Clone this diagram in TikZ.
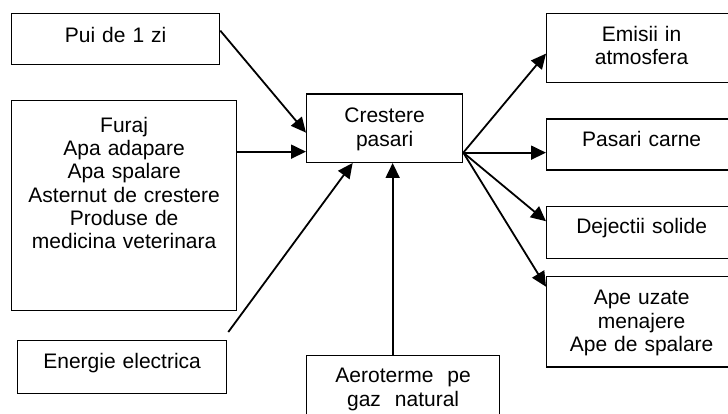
\documentclass[tikz,border=0pt]{standalone}
\usepackage{fontspec}
\setmainfont{Liberation Sans}
\usetikzlibrary{arrows.meta,positioning}
\tikzset{box/.style={draw, line width=1.3pt, inner sep=0pt, align=center,
                     font=\fontsize{21}{23.3}\selectfont},
         flow/.style={-{Triangle[length=15pt,width=14pt]}, line width=1.8pt}}

\begin{document}
\begin{tikzpicture}[x=1pt,y=-1pt]
                   \useasboundingbox (0,0) rectangle (728,414);
                   \clip (0,0) rectangle (728,414);
                   % inputs
                   \node[box,anchor=north west,text width=208pt,text height=28.7pt,text depth=22.3pt] (pui) at (11,13) {Pui de 1 zi};
                   \node[box,anchor=north west,text width=225pt,text height=31.7pt,text depth=178.3pt] (furaj) at (11,100) {Furaj\\Apa adapare\\Apa spalare\\Asternut de crestere\\Produse de\\medicina veterinara};
                   \node[box,anchor=north west,text width=209pt,text height=28.3pt,text depth=24.7pt] (energie) at (17,340) {Energie electrica};
                   \node[box,anchor=north west,text width=193pt,text height=27.3pt,text depth=37.7pt] (aeroterme) at (306,355) {Aeroterme\ \ pe\\gaz\ \ natural};
                   % process
                   \node[box,anchor=north west,text width=156pt,text height=29pt,text depth=39.4pt] (crestere) at (306,93.3) {Crestere\\pasari};
                   % outputs
                   \node[box,anchor=north west,text width=190pt,text height=27.7pt,text depth=41.3pt] (emisii) at (546,13) {Emisii in\\atmosfera};
                   \node[box,text width=190pt,text height=28pt,text depth=23pt] (carne) [below=35pt of emisii] {Pasari carne};
                   \node[box,text width=190pt,text height=27pt,text depth=25pt] (dejectii) [below=35pt of carne] {Dejectii solide};
                   \node[box,text width=190pt,text height=28.3pt,text depth=62pt] (ape) [below=17pt of dejectii] {Ape uzate\\menajere\\Ape de spalare};
                   \coordinate (hub) at ([yshift=-24.5pt]crestere.east);
                    \path[flow]
                    ([yshift=8.5pt]pui.east) edge ([yshift=-4.5pt]crestere.west)
                    ([yshift=54pt]furaj.east) edge ([yshift=-23.5pt]crestere.west)
                    ([shift={(1pt,8pt)}]energie.north east) edge ([xshift=-32pt]crestere.south)
                    ([xshift=-10.5pt]aeroterme.north) edge ([xshift=-10.5pt]aeroterme.north |- crestere.south)
                    (hub) edge ([yshift=-5.5pt]emisii.west)
                          edge (hub -| carne.west)
                          edge ([yshift=11pt]dejectii.west)
                          edge ([yshift=35pt]ape.west);
                \end{tikzpicture}
\end{document}
